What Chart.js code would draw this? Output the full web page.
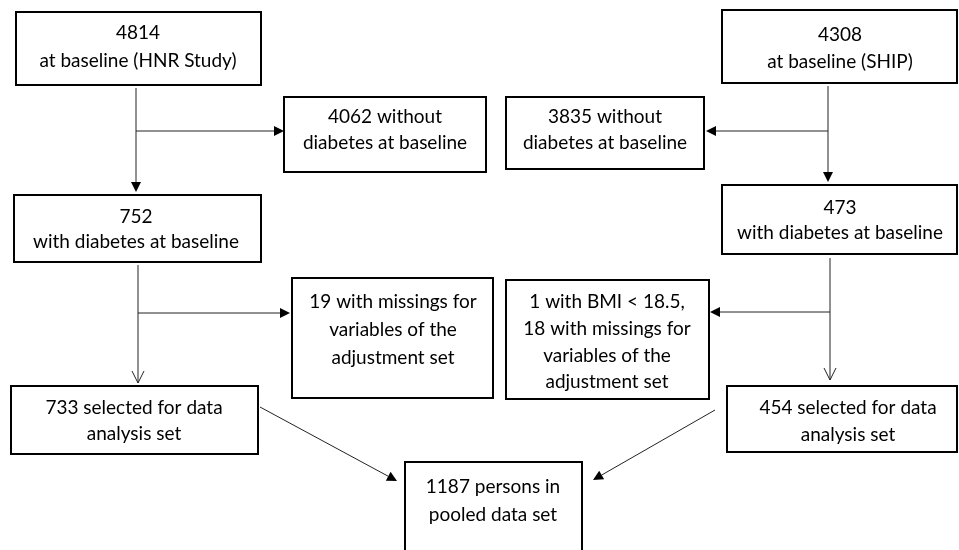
<!DOCTYPE html>
<html>
<head>
<meta charset="utf-8">
<script src="https://cdn.jsdelivr.net/npm/chart.js@4.4.1/dist/chart.umd.min.js"></script>
<style>
    body { margin: 0; background: #fff; }
    #wrap { width: 959px; height: 550px; }
</style>
</head>
<body>
<div id="wrap"><canvas id="flow" width="959" height="550"></canvas></div>
<script>
// box texts
const boxTexts = [
    ["4814", "at baseline (HNR Study)"],
    ["4062 without", "diabetes at baseline"],
    ["3835 without", "diabetes at baseline"],
    ["4308", "at baseline (SHIP)"],
    ["752", "with diabetes at baseline"],
    ["473", "with diabetes at baseline"],
    ["19 with missings for", "variables of the", "adjustment set"],
    ["1 with BMI < 18.5,", "18 with missings for", "variables of the", "adjustment set"],
    ["733 selected for data", "analysis set"],
    ["454 selected for data", "analysis set"],
    ["1187 persons in", "pooled data set"]
];
// box corners in diagram units (left, top, right, bottom)
const boxLeft   = [16, 284, 506, 722, 14, 722, 292, 506, 11, 727, 405];
const boxTop    = [12, 97, 97, 10, 195, 185, 278, 280, 386, 386, 462];
const boxRight  = [261, 486, 704, 957, 261, 957, 493, 709, 258, 957, 582];
const boxBottom = [85, 172, 169, 83, 262, 254, 398, 399, 454, 452, 560];
// first text line centre and line step per box
const textTopY  = [33, 117, 117, 35, 217, 208, 302, 302, 408, 408, 487];
const textTopX  = [138, 385, 605, 840, 136, 840, 393, 607, 134, 848, 493];
const textStep  = [28, 26, 26, 27, 25, 25, 28, 26.7, 26, 27, 28];

// arrows: from (x1,y1) to (x2,y2), head type
const arrowX1 = [136, 136, 828, 828, 138, 138, 830, 830, 260, 715];
const arrowY1 = [88, 131, 86, 131, 265, 313, 258, 312, 407, 410];
const arrowX2 = [136, 284, 828, 706, 138, 290, 830, 710, 397, 593];
const arrowY2 = [192, 131, 182, 131, 383, 313, 380, 312, 481, 480];
const arrowHead = ["fill", "fill", "fill", "fill", "open", "fill", "open", "fill", "fill", "fill"];

const flowPlugin = {
    id: 'flowPlugin',
    afterDraw(chart) {
        const ctx = chart.ctx;
        const xs = chart.scales.x;
        const ys = chart.scales.y;
        const px = v => xs.getPixelForValue(v);
        const py = v => ys.getPixelForValue(v);

        ctx.save();

        // boxes
        ctx.strokeStyle = '#000';
        ctx.lineWidth = 2;
        for (let i = 0; i < boxTexts.length; i++) {
            const x = px(boxLeft[i]);
            const y = py(boxTop[i]);
            ctx.strokeRect(x, y, px(boxRight[i]) - x, py(boxBottom[i]) - y);
        }

        // texts
        ctx.fillStyle = '#000';
        ctx.font = '19px Lato, sans-serif';
        ctx.textAlign = 'center';
        ctx.textBaseline = 'middle';
        for (let i = 0; i < boxTexts.length; i++) {
            boxTexts[i].forEach((line, j) => {
                ctx.fillText(line, px(textTopX[i]), py(textTopY[i] + j * textStep[i]));
            });
        }

        // arrows
        ctx.strokeStyle = '#222';
        ctx.fillStyle = '#000';
        ctx.lineWidth = 1;
        for (let i = 0; i < arrowX1.length; i++) {
            const x1 = px(arrowX1[i]), y1 = py(arrowY1[i]);
            const x2 = px(arrowX2[i]), y2 = py(arrowY2[i]);
            const ang = Math.atan2(y2 - y1, x2 - x1);
            const len = 10, half = 5;
            const bx = x2 - len * Math.cos(ang), by = y2 - len * Math.sin(ang);
            const nx = -Math.sin(ang), ny = Math.cos(ang);

            ctx.beginPath();
            ctx.moveTo(x1, y1);
            ctx.lineTo(arrowHead[i] === 'fill' ? bx : x2, arrowHead[i] === 'fill' ? by : y2);
            ctx.stroke();

            ctx.beginPath();
            if (arrowHead[i] === 'fill') {
                ctx.moveTo(x2, y2);
                ctx.lineTo(bx + nx * half, by + ny * half);
                ctx.lineTo(bx - nx * half, by - ny * half);
                ctx.closePath();
                ctx.fill();
            } else {
                ctx.moveTo(bx + nx * 6, by + ny * 6 - 2);
                ctx.lineTo(x2, y2);
                ctx.lineTo(bx - nx * 6, by - ny * 6 - 2);
                ctx.stroke();
            }
        }

        ctx.restore();
    }
};

new Chart(document.getElementById('flow'), {
    type: 'scatter',
    data: { datasets: [{ data: [], pointRadius: 0 }] },
    options: {
        responsive: false,
        animation: false,
        layout: { padding: 0 },
        plugins: { legend: { display: false }, tooltip: { enabled: false } },
        scales: {
            x: { type: 'linear', min: 0, max: 959, display: false },
            y: { type: 'linear', min: 0, max: 550, reverse: true, display: false }
        }
    },
    plugins: [flowPlugin]
});
</script>
</body>
</html>
